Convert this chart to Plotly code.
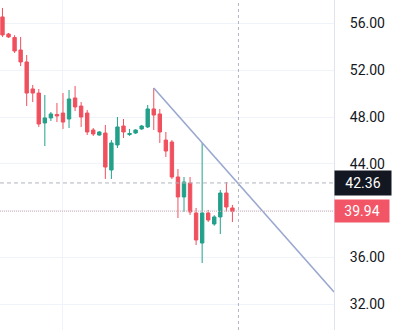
import plotly.graph_objects as go

# OHLC data, one candle per session (index 0..38)
opens = [56.56, 55.10, 54.80, 53.73, 52.71, 50.40, 50.05, 47.49, 47.92, 48.22,
         48.34, 47.83, 49.63, 48.94, 48.34, 46.89, 46.46, 46.63, 43.47, 45.61,
         47.23, 46.50, 46.63, 46.98, 47.15, 48.69, 48.26, 46.03, 45.86, 42.87,
         41.16, 42.36, 39.79, 37.22, 39.79, 38.85, 39.45, 41.50, 40.22]
highs = [57.33, 55.19, 55.00, 54.85, 53.31, 50.74, 50.40, 49.88, 48.43, 49.20,
         50.05, 50.31, 50.65, 49.28, 48.60, 47.06, 46.80, 47.32, 46.03, 48.00,
         47.83, 46.98, 46.95, 47.32, 49.03, 50.48, 48.69, 46.72, 46.03, 43.55,
         42.87, 42.87, 40.22, 45.78, 40.05, 39.60, 41.76, 42.44, 40.48]
lows = [54.85, 54.76, 53.48, 52.36, 48.94, 49.28, 47.15, 45.52, 47.66, 47.57,
        46.98, 47.06, 48.51, 47.15, 46.46, 46.38, 46.40, 42.70, 42.70, 45.35,
        46.21, 46.38, 46.55, 46.90, 47.06, 46.89, 45.78, 44.58, 42.70, 39.36,
        39.88, 39.62, 37.05, 35.51, 39.02, 38.70, 37.99, 39.88, 39.02]
closes = [55.02, 54.85, 53.65, 52.71, 50.05, 50.05, 47.40, 47.92, 48.26, 48.09,
          47.57, 49.54, 48.86, 48.00, 46.72, 46.55, 46.72, 43.72, 45.78, 47.15,
          46.72, 46.59, 46.89, 47.23, 48.69, 48.17, 46.72, 45.09, 42.87, 41.16,
          42.44, 39.88, 37.48, 39.79, 39.19, 39.45, 41.50, 40.30, 39.94]
bar_index = list(range(len(opens)))

# Trend line drawing (bar index, price)
trend_x = [25, 54.8]
trend_y = [50.48, 33.03]

crosshair_x = 39
crosshair_price = 42.36
last_price = 39.94

price_ticks = [32, 36, 40, 44, 48, 52, 56]
# the 40.00 label is hidden behind the last-price marker in the reference
price_tick_text = ["32.00", "36.00", "", "44.00", "48.00", "52.00", "56.00"]
time_grid = [10]

UP = "#22A08A"
DOWN = "#F0505E"

fig = go.Figure()
fig.add_trace(go.Candlestick(
    x=bar_index, open=opens, high=highs, low=lows, close=closes,
    increasing=dict(line=dict(color=UP, width=1), fillcolor=UP),
    decreasing=dict(line=dict(color=DOWN, width=1), fillcolor=DOWN),
    whiskerwidth=0, showlegend=False, hoverinfo="skip",
))
fig.add_trace(go.Scatter(
    x=trend_x, y=trend_y, mode="lines",
    line=dict(color="#9AA8CF", width=1.6), showlegend=False, hoverinfo="skip",
))

# crosshair and last price lines
fig.add_hline(y=crosshair_price, line=dict(color="#B2B5BE", width=1, dash="4px,3px"))
fig.add_vline(x=crosshair_x, line=dict(color="#B2B5BE", width=1, dash="3px,3px"))
fig.add_hline(y=last_price, line=dict(color="#D3B0B4", width=1, dash="1px,1px"))

fig.add_annotation(
    x=1, xref="paper", xanchor="left", y=crosshair_price, yref="y", yanchor="middle",
    text=f"{crosshair_price:.2f}", showarrow=False,
    font=dict(family="Roboto", size=14, color="#FFFFFF"),
    bgcolor="#131722", borderpad=4, width=48, align="center",
)
fig.add_annotation(
    x=1, xref="paper", xanchor="left", y=last_price, yref="y", yanchor="middle",
    text=f"{last_price:.2f}", showarrow=False,
    font=dict(family="Roboto", size=14, color="#FFFFFF"),
    bgcolor="#F25566", borderpad=3, width=48, align="center",
)

fig.update_layout(
    width=396, height=330,
    margin=dict(l=0, r=62, t=0, b=0),
    paper_bgcolor="#FFFFFF", plot_bgcolor="#FFFFFF",
    boxgap=0.2,
    xaxis=dict(
        range=[-0.41, 54.79], rangeslider=dict(visible=False),
        tickvals=time_grid, showticklabels=False, showgrid=True,
        gridcolor="#F0F3FA", zeroline=False, showline=False,
    ),
    yaxis=dict(
        side="right", range=[29.78, 58.01], tickvals=price_ticks,
        ticktext=price_tick_text, showgrid=True, gridcolor="#F0F3FA",
        zeroline=False, showline=True, linecolor="#E0E3EB", linewidth=1,
        ticks="", ticklabelstandoff=12,
        tickfont=dict(family="Roboto", size=14, color="#131722"),
    ),
    font=dict(family="Roboto"),
)

fig.write_html("out.html")
